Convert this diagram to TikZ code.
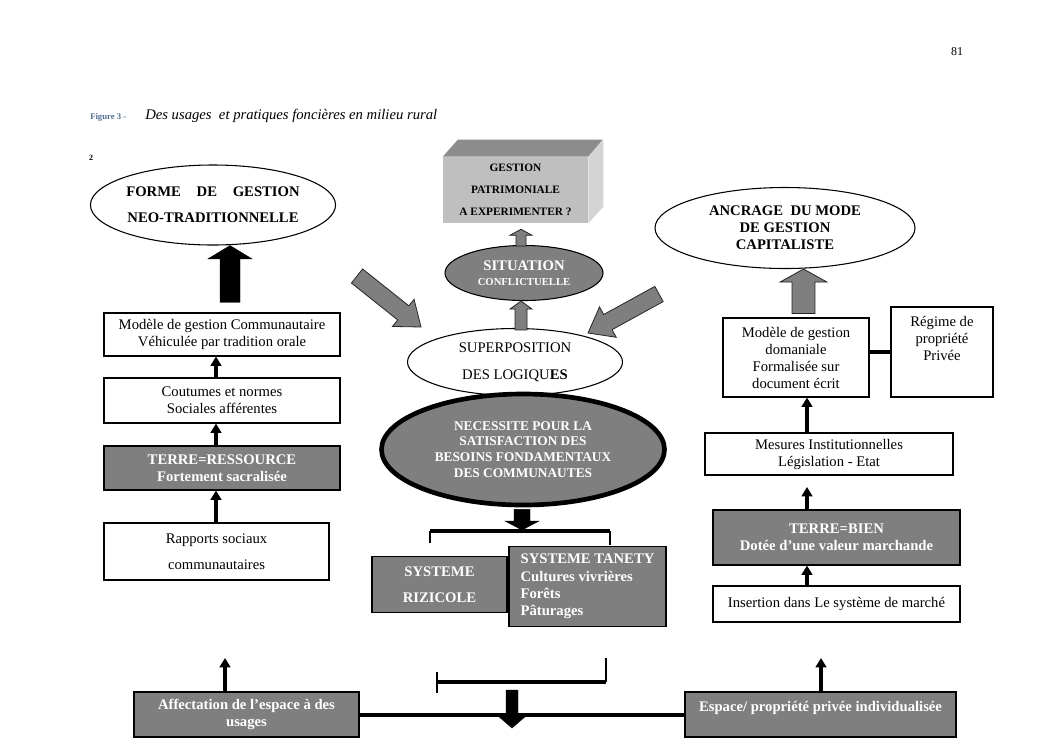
\documentclass[tikz,border=0pt]{standalone}
\usepackage{fontspec}
\setmainfont{Liberation Serif}
\usetikzlibrary{calc,shapes.geometric,arrows.meta}
\definecolor{boxgray}{RGB}{127,127,127}
\definecolor{figblue}{RGB}{79,110,150}
\definecolor{cubetop}{RGB}{140,140,140}
\definecolor{cubefront}{RGB}{191,191,191}
\definecolor{cubeside}{RGB}{212,212,212}
% block arrow: style, start, end, shaft half width, head half width, head length
\newcommand\blockarrow[6]{%
  \filldraw[#1] ($(#2)!#4!90:(#3)$) -- ($(#3)!#6!(#2)!#4!-90:(#2)$) -- ($(#3)!#6!(#2)!#5!-90:(#2)$) -- (#3) -- ($(#3)!#6!(#2)!#5!90:(#2)$) -- ($(#3)!#6!(#2)!#4!90:(#2)$) -- ($(#2)!#4!-90:(#3)$) -- cycle;}
\tikzset{
  base/.style={font=\fontsize{11}{12.75}\selectfont, align=center, inner sep=0pt},
  wbox/.style={base, draw, line width=0.8pt, fill=white},
  gbox/.style={base, draw, line width=0.8pt, fill=boxgray, text=white, font=\bfseries\fontsize{11}{12.75}\selectfont},
  oval/.style={base, ellipse, draw, line width=0.8pt},
  thinarrow/.style={line width=2.4pt, -{Triangle[width=8pt,length=7pt]}},
  graybar/.style={fill=boxgray, draw=black!85, line width=0.6pt},
  blackbar/.style={fill=black, draw=black, line width=0.3pt},
  txt/.style={inner sep=0pt},
}
\begin{document}
\begin{tikzpicture}[x=0.75pt,y=-0.75pt]
\fill[white] (0,0) rectangle (1053,744);
\useasboundingbox (0,0) rectangle (1053,744);

% header texts
\node[txt, font=\fontsize{9}{9}\selectfont] (pnum) at (957,52) {81};
\node[txt, anchor=base west, font=\bfseries\fontsize{6.5}{7}\selectfont, text=figblue] (figlab) at (90,119) {Figure 3 -};
\node[txt, anchor=base west, font=\itshape\fontsize{11}{12}\selectfont] (title) at (145,119) {Des usages\ \ et pratiques foncières en milieu rural};
\node[txt, font=\bfseries\fontsize{6}{6}\selectfont] (two) at (91,158) {2};

% left column
\node[oval, minimum width=240*0.75pt, minimum height=80*0.75pt, font=\bfseries\fontsize{11}{19.5}\selectfont] (forme) at (213,205) {\makebox[130pt][s]{FORME DE GESTION}\\NEO-TRADITIONNELLE};
\node[wbox, minimum width=236*0.75pt, minimum height=43*0.75pt] (modele) at (222,334.5) {Modèle de gestion Communautaire\\Véhiculée par tradition orale};
\node[wbox, minimum width=236*0.75pt, minimum height=45*0.75pt] (coutumes) at (222,400.5) {Coutumes et normes\\Sociales afférentes};
\node[gbox, minimum width=236*0.75pt, minimum height=44*0.75pt] (terre1) at (222,468) {TERRE=RESSOURCE\\Fortement sacralisée};
\node[wbox, minimum width=225*0.75pt, minimum height=57*0.75pt, font=\fontsize{11}{19.5}\selectfont] (rapports) at (216.5,551.5) {Rapports sociaux\\communautaires};
\node[gbox, minimum width=225*0.75pt, minimum height=45*0.75pt] (affect) at (246.5,714.5) {Affectation de l’espace à des\\usages};

% right column
\node[oval, minimum width=260*0.75pt, minimum height=81*0.75pt, font=\bfseries\fontsize{11}{12.75}\selectfont] (ancrage) at (785,228) {ANCRAGE\ \ DU MODE\\DE GESTION\\CAPITALISTE};
\node[wbox, minimum width=146*0.75pt, minimum height=79*0.75pt] (domaniale) at (796,357.5) {Modèle de gestion\\domaniale\\Formalisée sur\\document écrit};
\node[wbox, minimum width=102*0.75pt, minimum height=90*0.75pt] (regime) at (942,352) {Régime de\\propriété\\Privée\\[7pt]\mbox{}};
\node[wbox, minimum width=248*0.75pt, minimum height=42*0.75pt] (mesures) at (829,454) {Mesures Institutionnelles\\Législation - Etat};
\node[gbox, minimum width=247*0.75pt, minimum height=55*0.75pt] (terre2) at (836.5,537.5) {TERRE=BIEN\\Dotée d’une valeur marchande};
\node[wbox, minimum width=247*0.75pt, minimum height=36*0.75pt] (insertion) at (836.5,604) {Insertion dans Le système de marché};
\node[gbox, minimum width=271*0.75pt, minimum height=45*0.75pt] (espace) at (820.5,714.5) {Espace/ propriété privée individualisée\\\mbox{}};

% centre
\node[base, fill=cubefront, minimum width=145*0.75pt, minimum height=66*0.75pt, font=\bfseries\fontsize{8.5}{16.5}\selectfont] (gestion) at (515.5,190) {GESTION\\PATRIMONIALE\\A EXPERIMENTER ?};
\fill[cubetop] (gestion.north west) -- ++(15,-17) -- ++(145,0) -- (gestion.north east) -- cycle;
\fill[cubeside] (gestion.north east) -- ++(15,-17) -- ++(0,67) -- (gestion.south east) -- cycle;

\node[oval, fill=boxgray, text=white, minimum width=158*0.75pt, minimum height=55*0.75pt, font=\bfseries\fontsize{11}{11.25}\selectfont] (situation) at (524,273) {SITUATION\\{\fontsize{8}{11.25}\selectfont CONFLICTUELLE}};
\node[oval, fill=white, minimum width=215*0.75pt, minimum height=67*0.75pt, font=\fontsize{11}{20.25}\selectfont] (superpos) at (515,362) {SUPERPOSITION\\DES LOGIQU\textbf{ES}};
\node[oval, line width=3.5pt, fill=boxgray, text=white, minimum width=283*0.75pt, minimum height=111*0.75pt, font=\bfseries\fontsize{10}{11.8}\selectfont] (necessite) at (523,449.5) {NECESSITE POUR LA\\SATISFACTION DES\\BESOINS FONDAMENTAUX\\DES COMMUNAUTES};
\node[gbox, minimum width=135*0.75pt, minimum height=56*0.75pt, font=\bfseries\fontsize{11}{19.5}\selectfont] (rizicole) at (439.5,584.5) {SYSTEME\\RIZICOLE};
\node[gbox, align=left, minimum width=157*0.75pt, minimum height=80*0.75pt, font=\bfseries\fontsize{11}{13}\selectfont] (tanety) at (587.5,586.5) {SYSTEME TANETY\\Cultures vivrières\\Forêts\\Pâturages};

% brackets
\coordinate (btl) at (430,531);
\coordinate (btr) at (610,531);
\draw[line width=2.3pt] (btl) -- (btr);
\draw[line width=0.8pt] (btl) -- ++(0,12);
\draw[line width=0.8pt] (btr) -- ++(0,14);
\coordinate (bbl) at (437,682);
\coordinate (bbr) at (606,682);
\draw[line width=2.3pt] (bbl) -- (bbr);
\draw[line width=0.8pt] ($(bbl)+(0,-10)$) -- ++(0,21);
\draw[line width=0.8pt] (bbr) -- ++(0,-24);

% thick connectors
\draw[line width=3pt] (regime.west) -- (regime.west -| domaniale.east);
\draw[line width=3pt] (affect.east) -- (espace.west);

% thin arrows
\coordinate (lc) at (216,0);
\coordinate (rc) at (807,0);
\draw[thinarrow] (coutumes.north -| lc) -- (modele.south -| lc);
\draw[thinarrow] (terre1.north -| lc) -- (coutumes.south -| lc);
\draw[thinarrow] (rapports.north -| lc) -- (terre1.south -| lc);
\draw[thinarrow] (mesures.north -| rc) -- (domaniale.south -| rc);
\coordinate (fe2) at (807,487);
\draw[thinarrow] (terre2.north -| rc) -- (fe2);
\draw[thinarrow] (insertion.north -| rc) -- (terre2.south -| rc);
\coordinate (fe3) at (225,658);
\draw[thinarrow] (affect.north -| fe3) -- (fe3);
\coordinate (fe4) at (821,658);
\draw[thinarrow] (espace.north -| fe4) -- (fe4);

% block arrows
\coordinate (a1s) at ($(modele.north)+(8,-10)$);
\coordinate (a1e) at (a1s |- forme.south);
\blockarrow{blackbar}{a1s}{a1e}{7.5pt}{16.5pt}{10pt}
\coordinate (a2s) at ($(domaniale.north)+(7.5,-4)$);
\coordinate (a2e) at (a2s |- ancrage.south);
\blockarrow{graybar}{a2s}{a2e}{8.6pt}{17.6pt}{9.75pt}
\coordinate (a3s) at (357,276);
\coordinate (a3e) at (421,327);
\blockarrow{graybar}{a3s}{a3e}{6.75pt}{13pt}{17pt}
\coordinate (a4s) at (659,294);
\coordinate (a4e) at (588,333);
\blockarrow{graybar}{a4s}{a4e}{6.5pt}{13pt}{17pt}
\coordinate (a5s) at ($(superpos.north)+(6,2)$);
\coordinate (a5e) at (a5s |- situation.south);
\blockarrow{graybar}{a5s}{a5e}{4.5pt}{8.25pt}{6pt}
\coordinate (a6s) at ($(situation.north)+(-3,1)$);
\coordinate (a6e) at ($(a6s |- gestion.south)+(0,6)$);
\blockarrow{graybar}{a6s}{a6e}{3.75pt}{8.25pt}{4.5pt}
\coordinate (a7s) at ($(necessite.south)+(-1,2)$);
\coordinate (a7e) at ($(a7s |- btl)+(0,-1)$);
\blockarrow{blackbar}{a7s}{a7e}{6pt}{12.75pt}{6.75pt}
\coordinate (a8s) at (512,690);
\coordinate (a8e) at (512,728);
\blockarrow{blackbar}{a8s}{a8e}{4.5pt}{12.75pt}{11pt}
\end{tikzpicture}
\end{document}
